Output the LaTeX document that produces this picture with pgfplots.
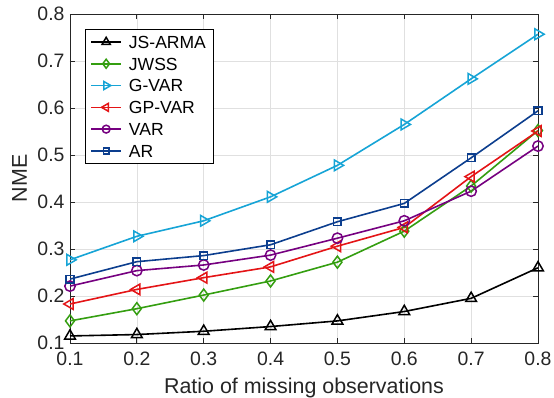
\documentclass[border=0pt]{standalone}
\usepackage{fontspec}
\setmainfont{Liberation Sans}
\usepackage{pgfplots}
\pgfplotsset{compat=1.18}
\definecolor{cJW}{RGB}{52,158,16}
\definecolor{cGV}{RGB}{22,164,214}
\definecolor{cGP}{RGB}{228,20,22}
\definecolor{cVA}{RGB}{118,0,128}
\definecolor{cAR}{RGB}{12,62,142}
\definecolor{axc}{RGB}{38,38,38}
\begin{document}
\begin{tikzpicture}
\begin{axis}[
  scale only axis,
  width=468bp, height=329bp,
  xmin=0.1, xmax=0.8, ymin=0.1, ymax=0.8,
  xtick={0.1,0.2,...,0.8}, ytick={0.1,0.2,...,0.8},
  /pgf/number format/assume math mode=true,
  /pgf/number format/.cd, fixed, precision=1, fixed zerofill, /pgfplots/.cd,
  ticklabel style={font=\fontsize{19.5}{22}\selectfont, text=axc},
  yticklabel style={xshift=-2bp},
  xticklabel style={yshift=-5bp},
  label style={font=\fontsize{21.5}{24}\selectfont, text=axc},
  xlabel={Ratio of missing observations},
  ylabel={NME},
  xlabel style={at={(axis description cs:0.5,-0.152)}, anchor=base},
  ylabel style={at={(axis description cs:-0.0919,0.5)}, anchor=base},
  axis line style={axc, line width=0.8bp},
  major tick style={axc, line width=0.8bp},
  major tick length=5bp,
  tick align=inside,
  grid=major,
  major grid style={draw=black!12, line width=0.6bp},
  clip=false,
  every axis plot/.append style={line width=1.6bp},
  legend image code/.code={\draw[mark repeat=2,mark phase=2,#1,every mark/.append style={scale=0.75}] plot coordinates {(0bp,0bp) (15bp,0bp) (30bp,0bp)};},
  legend style={at={(axis description cs:0.032,0.954)}, anchor=north west,
    font=\fontsize{17.6}{20}\selectfont, draw=black, line width=0.8bp,
    inner xsep=5bp, inner ysep=6.1bp, row sep=9.2bp, column sep=5bp,
    nodes={inner xsep=2bp, inner ysep=0bp, text height=12.6bp, text depth=0bp}},
  legend cell align=left,
]
\addplot[black, mark=triangle, mark size=6.2bp, mark options={solid, line width=1.5bp}] coordinates {
(0.1,0.115) (0.2,0.118) (0.3,0.125) (0.4,0.135) (0.5,0.147) (0.6,0.167) (0.7,0.195) (0.8,0.260)};
\addlegendentry{JS-ARMA}
\addplot[cJW, mark=diamond, mark size=6bp, mark options={solid, line width=1.5bp}] coordinates {
(0.1,0.147) (0.2,0.173) (0.3,0.202) (0.4,0.232) (0.5,0.272) (0.6,0.338) (0.7,0.434) (0.8,0.552)};
\addlegendentry{JWSS}
\addplot[cGV, mark=triangle, mark size=6.2bp, mark options={solid, line width=1.5bp, rotate=-90}] coordinates {
(0.1,0.277) (0.2,0.327) (0.3,0.360) (0.4,0.411) (0.5,0.478) (0.6,0.565) (0.7,0.662) (0.8,0.757)};
\addlegendentry{G-VAR}
\addplot[cGP, mark=triangle, mark size=6.2bp, mark options={solid, line width=1.5bp, rotate=90}] coordinates {
(0.1,0.183) (0.2,0.214) (0.3,0.239) (0.4,0.262) (0.5,0.306) (0.6,0.346) (0.7,0.454) (0.8,0.551)};
\addlegendentry{GP-VAR}
\addplot[cVA, mark=o, mark size=5.2bp, mark options={solid, line width=1.5bp}] coordinates {
(0.1,0.221) (0.2,0.254) (0.3,0.266) (0.4,0.287) (0.5,0.323) (0.6,0.360) (0.7,0.423) (0.8,0.519)};
\addlegendentry{VAR}
\addplot[cAR, mark=square, mark size=3.8bp, mark options={solid, line width=1.5bp}] coordinates {
(0.1,0.236) (0.2,0.273) (0.3,0.286) (0.4,0.309) (0.5,0.358) (0.6,0.397) (0.7,0.494) (0.8,0.594)};
\addlegendentry{AR}
\end{axis}
\pgfresetboundingbox
\path[use as bounding box] (-70bp,-55bp) rectangle (484bp,343bp);
\end{tikzpicture}
\end{document}
